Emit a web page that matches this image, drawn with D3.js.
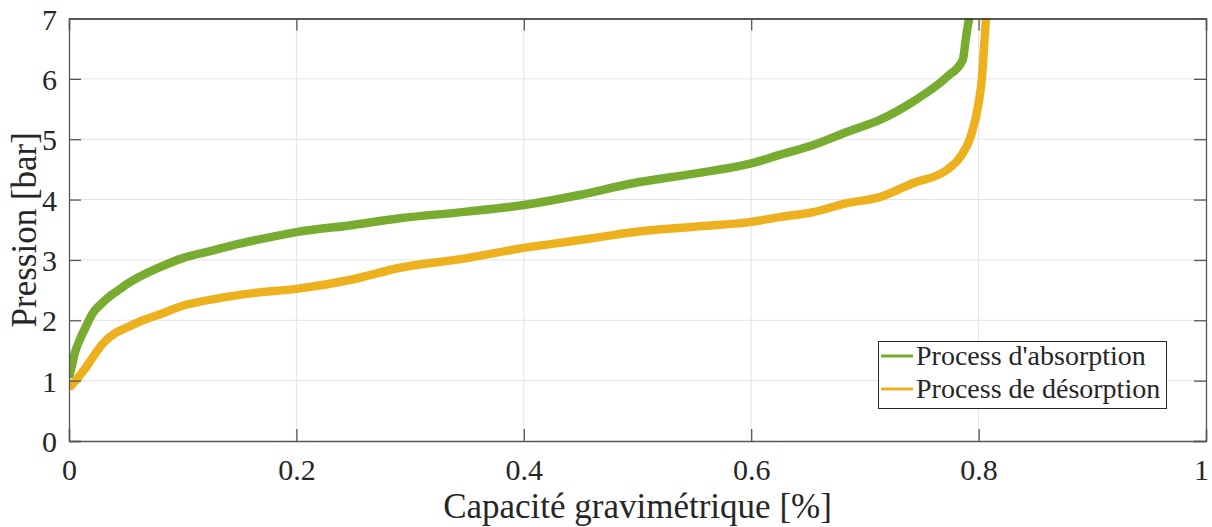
<!DOCTYPE html>
<html><head><meta charset="utf-8">
<script src="https://cdn.jsdelivr.net/npm/d3@7"></script>
<style>body{margin:0;background:#fff}svg{display:block}text{font-family:"Liberation Serif","Times New Roman",serif;fill:#262626}</style>
</head><body><svg id="c" width="1212" height="527"></svg>
<script>
const absX = [0,0.002,0.005,0.01,0.015,0.021,0.03,0.036,0.045,0.051,0.065,0.08,0.1,0.125,0.15,0.175,0.2,0.25,0.291,0.35,0.4,0.45,0.496,0.55,0.6,0.625,0.654,0.684,0.713,0.742,0.772,0.786,0.789,0.7916,0.794];
const absY = [1.05,1.2,1.45,1.7,1.9,2.12,2.3,2.4,2.52,2.6,2.75,2.88,3.03,3.15,3.27,3.37,3.46,3.58,3.69,3.8,3.91,4.08,4.27,4.43,4.6,4.74,4.9,5.12,5.32,5.62,6.03,6.31,6.7,7.0,7.3];
const desX = [0,0.005,0.01,0.015,0.021,0.03,0.04,0.051,0.065,0.08,0.1,0.13,0.162,0.2,0.25,0.291,0.35,0.4,0.45,0.496,0.55,0.6,0.625,0.654,0.684,0.713,0.742,0.772,0.784,0.793,0.8,0.803,0.805,0.8065,0.808];
const desY = [0.88,0.98,1.1,1.22,1.39,1.62,1.78,1.88,2.0,2.1,2.24,2.36,2.45,2.52,2.68,2.87,3.03,3.2,3.33,3.46,3.55,3.63,3.71,3.79,3.94,4.04,4.27,4.49,4.71,5.04,5.6,6.03,6.59,7.0,7.3];
const xTicks = [0,0.2,0.4,0.6,0.8,1];
const yTicks = [0,1,2,3,4,5,6,7];
const seriesNames = ["Process d'absorption","Process de désorption"];
const colors = ["#77AC30","#EDB120"];

const svg = d3.select("#c");
const L=69,R=1206,T=18.5,B=441;
const x = d3.scaleLinear().domain([0,1]).range([L,R]);
const y = d3.scaleLinear().domain([0,7]).range([B,T]);

// grid
svg.append("g").selectAll("line").data(xTicks.slice(1,-1)).join("line")
  .attr("x1",d=>x(d)).attr("x2",d=>x(d)).attr("y1",T).attr("y2",B).attr("stroke","#e3e3e3").attr("stroke-width",1);
svg.append("g").selectAll("line").data(yTicks.slice(1,-1)).join("line")
  .attr("y1",d=>y(d)).attr("y2",d=>y(d)).attr("x1",L).attr("x2",R).attr("stroke","#e3e3e3").attr("stroke-width",1);

svg.append("clipPath").attr("id","clip").append("rect").attr("x",L).attr("y",T).attr("width",R-L).attr("height",B-T);

const line = d3.line().x(d=>x(d[0])).y(d=>y(d[1])).curve(d3.curveMonotoneX);
const series = [d3.zip(absX,absY), d3.zip(desX,desY)];
svg.append("g").attr("clip-path","url(#clip)").selectAll("path").data(series).join("path")
  .attr("d",line).attr("fill","none").attr("stroke",(d,i)=>colors[i]).attr("stroke-width",8.5).attr("stroke-linejoin","round");

// axes
const axCol="#555";
const tl=12;
const gx = svg.append("g").attr("transform",`translate(0,${B})`).call(d3.axisBottom(x).tickValues(xTicks).tickSize(-tl).tickPadding(18).tickFormat(d3.format("~g")));
const gxt = svg.append("g").attr("transform",`translate(0,${T})`).call(d3.axisTop(x).tickValues(xTicks).tickSize(-tl).tickFormat(""));
const gy = svg.append("g").attr("transform",`translate(${L},0)`).call(d3.axisLeft(y).tickValues(yTicks).tickSize(-tl).tickPadding(12).tickFormat(d3.format("d")));
const gyr = svg.append("g").attr("transform",`translate(${R},0)`).call(d3.axisRight(y).tickValues(yTicks).tickSize(-tl).tickFormat(""));
[gx,gxt,gy,gyr].forEach(g=>{
  g.selectAll(".domain").attr("stroke",axCol).attr("stroke-width",1.3);
  g.selectAll(".tick line").attr("stroke",axCol).attr("stroke-width",1.3);
  g.selectAll("text").attr("font-size",30).attr("font-family","Liberation Serif").attr("fill","#262626");
});
gxt.select(".domain").attr("stroke","#222");
gy.selectAll("text").attr("dy","0.35em");
gx.selectAll(".tick").filter(d=>d===1).select("text").attr("dx",-5);

// titles
svg.append("text").attr("x",(L+R)/2).attr("y",518).attr("text-anchor","middle").attr("font-size",35).text("Capacité gravimétrique [%]");
svg.append("text").attr("transform",`translate(36,${(T+B)/2}) rotate(-90)`).attr("text-anchor","middle").attr("font-size",35).text("Pression [bar]");

// legend
const lg = svg.append("g");
lg.append("rect").attr("x",878.5).attr("y",341.5).attr("width",288).attr("height",67).attr("fill","#fff").attr("stroke","#262626").attr("stroke-width",1);
seriesNames.forEach((n,i)=>{
  const yy = 356 + i*33;
  lg.append("line").attr("x1",881).attr("x2",913).attr("y1",yy).attr("y2",yy).attr("stroke",colors[i]).attr("stroke-width",3);
  lg.append("text").attr("x",916).attr("y",yy+9).attr("font-size",28).text(n);
});
</script></body></html>
